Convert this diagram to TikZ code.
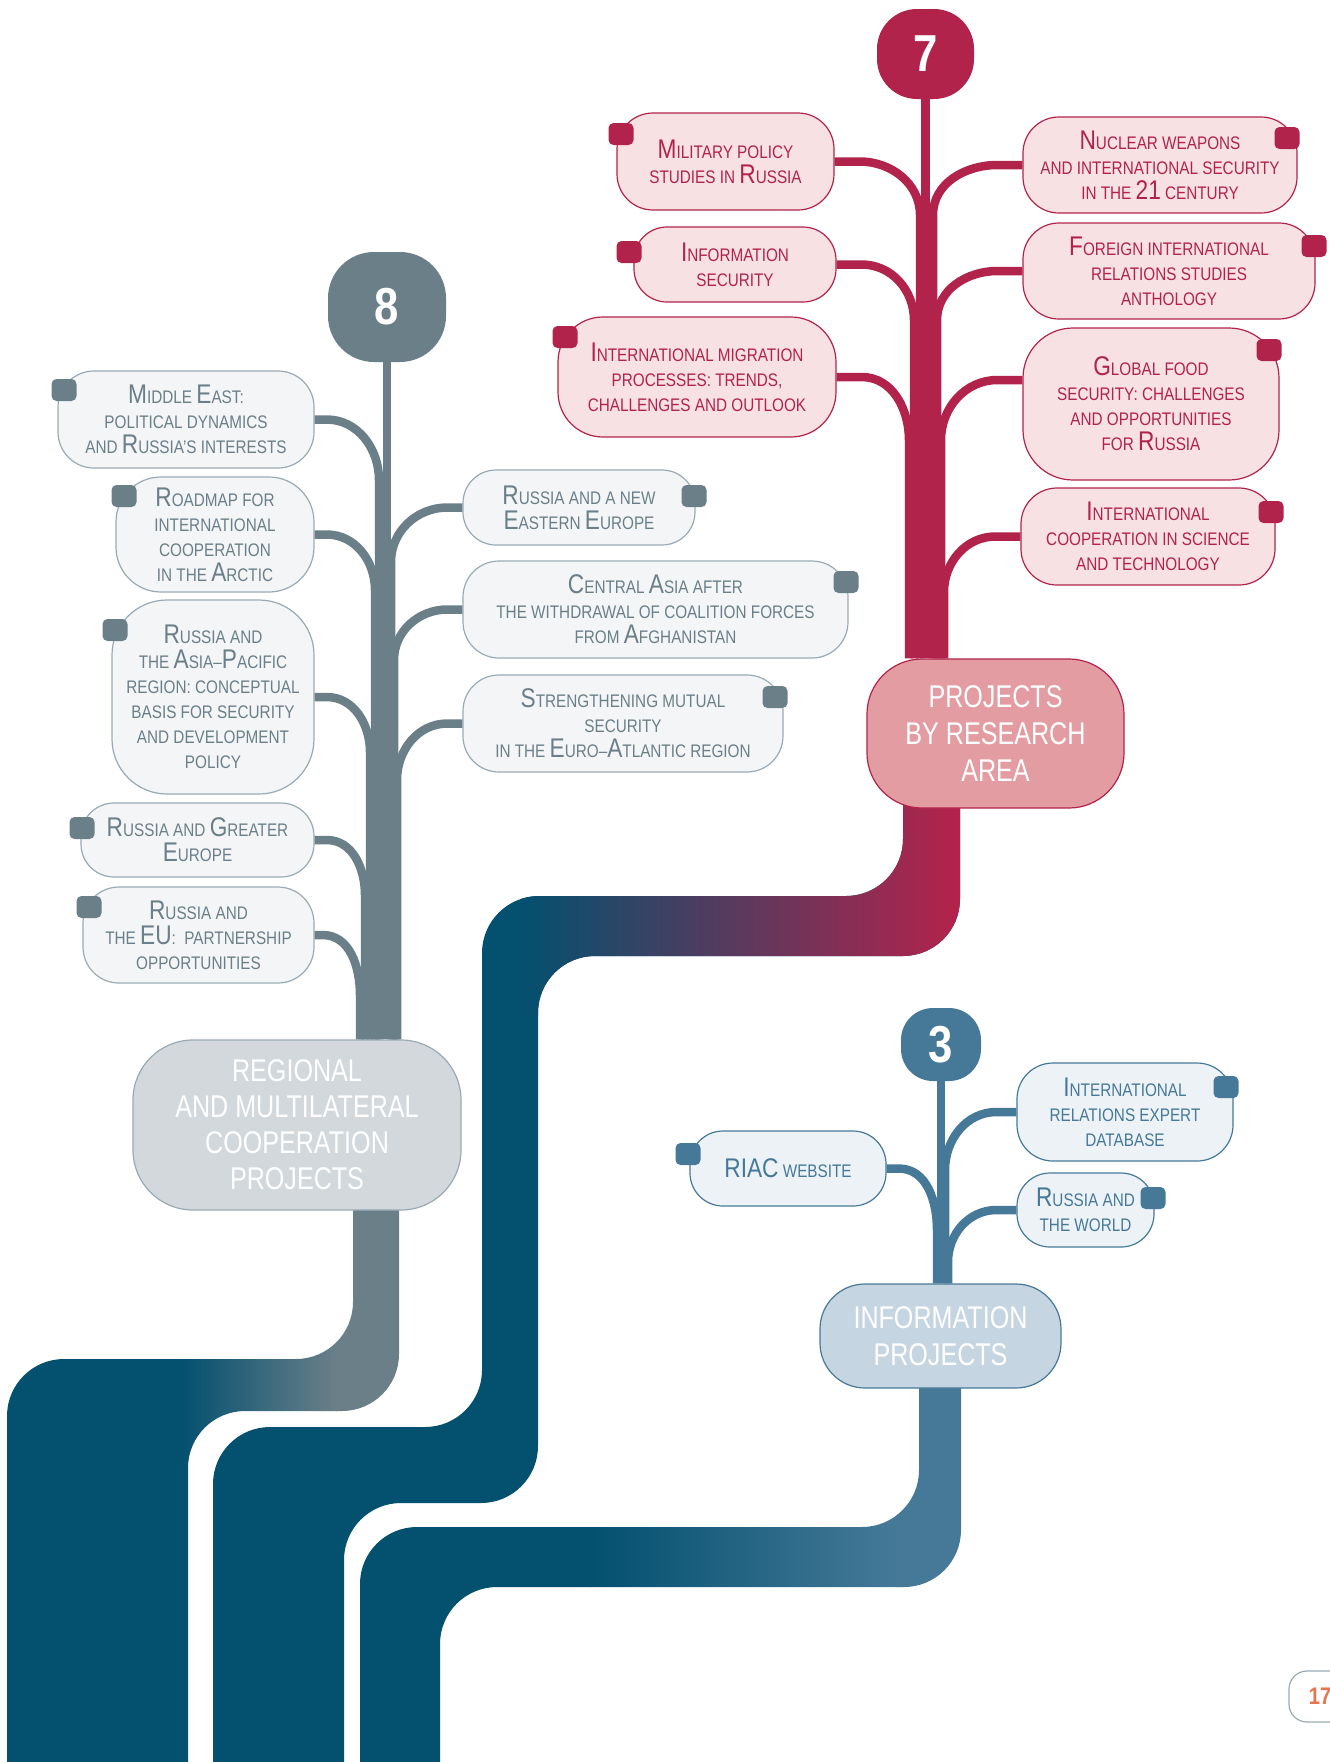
\documentclass[tikz,border=0pt]{standalone}
\usepackage{fontspec}
\setmainfont{Liberation Sans}[FakeStretch=0.84]
\newfontfamily\headfont{Liberation Sans}[FakeStretch=0.8]
\usetikzlibrary{calc}
\definecolor{crimson}{HTML}{B2234C}
\definecolor{pinkfill}{HTML}{F8E1E3}
\definecolor{pinkhead}{HTML}{E39CA1}
\definecolor{slate}{HTML}{6B7F89}
\definecolor{slatefill}{HTML}{F3F5F7}
\definecolor{slateline}{HTML}{9AAAB4}
\definecolor{slatehead}{HTML}{D3D8DC}
\definecolor{steel}{HTML}{467998}
\definecolor{steelfill}{HTML}{ECF2F6}
\definecolor{steelhead}{HTML}{C5D5E1}
\definecolor{deepblue}{HTML}{03506F}
\definecolor{pageorange}{HTML}{E8734F}
\newcommand{\bigc}[1]{{\fontsize{27}{25}\selectfont #1}}
\tikzset{topic/.style={rounded corners=36pt, line width=1.2pt, align=center, inner sep=0pt, font=\fontsize{18.2}{25}\selectfont},
  redtopic/.style={topic, draw=crimson, fill=pinkfill, text=crimson},
  greytopic/.style={topic, draw=slateline, fill=slatefill, text=slate},
  bluetopic/.style={topic, draw=steel, fill=steelfill, text=steel},
  cornertag/.style={minimum width=25pt, minimum height=22pt, inner sep=0pt, rounded corners=5pt},
  numbox/.style={text=white, inner sep=0pt, font=\fontsize{52}{52}\selectfont\bfseries},
  headbox/.style={align=center, text=white, inner sep=0pt, line width=1.2pt, font=\headfont\fontsize{31.4}{37}\selectfont},
  twig/.style={line width=8.5pt}}

\begin{document}
\begin{tikzpicture}[x=1pt, y=-1pt]
\useasboundingbox (0,0) rectangle (1330,1762);
\clip (0,0) rectangle (1330,1762);

% bands
\begin{scope}
\clip[rounded corners=57pt] (353,1130) -- (399,1130) -- (399,1411) -- (188,1411) -- (188,1900) -- (7,1900) -- (7,1359) -- (353,1359) -- cycle;
\fill[deepblue] (0,1100) rectangle (181,1900);
\shade[left color=deepblue, right color=slate] (180,1100) rectangle (337,1900);
\fill[slate] (336,1100) rectangle (420,1900);
\end{scope}
\begin{scope}
\clip[rounded corners=57pt] (903,720) -- (960,720) -- (960,956) -- (538,956) -- (538,1503) -- (344,1503) -- (344,1900) -- (213,1900) -- (213,1427) -- (482,1427) -- (482,896) -- (903,896) -- cycle;
\fill[deepblue] (0,700) rectangle (1000,1900);
\shade[left color=deepblue, right color=crimson] (520,700) rectangle (954,1015);
\fill[crimson] (953,700) rectangle (1000,1015);
\end{scope}
\begin{scope}
\clip[rounded corners=57pt] (919,1300) -- (961,1300) -- (961,1587) -- (440,1587) -- (440,1900) -- (360,1900) -- (360,1527) -- (919,1527) -- cycle;
\fill[deepblue] (0,1290) rectangle (591,1900);
\shade[left color=deepblue, right color=steel] (590,1290) rectangle (898,1660);
\fill[steel] (897,1290) rectangle (1000,1660);
\end{scope}

% research area (7)
\node[numbox, fill=crimson, minimum width=97pt, minimum height=90pt, rounded corners=40pt] (n7) at (925.5,54) {7};
\node[redtopic, minimum width=217pt, minimum height=97pt] (mil) at (725.5,161.5) {\bigc{M}ILITARY POLICY\\STUDIES IN \bigc{R}USSIA};
\node[redtopic, minimum width=202pt, minimum height=75pt, rounded corners=33pt] (isec) at (735,264.5) {\bigc{I}NFORMATION\\SECURITY};
\node[redtopic, minimum width=278pt, minimum height=120pt, rounded corners=45pt] (migr) at (697,377) {\bigc{I}NTERNATIONAL MIGRATION\\PROCESSES: TRENDS,\\CHALLENGES AND OUTLOOK};
\node[redtopic, minimum width=274pt, minimum height=96pt] (nuke) at (1160,165) {\bigc{N}UCLEAR WEAPONS\\AND INTERNATIONAL SECURITY\\IN THE \bigc{21} CENTURY};
\node[redtopic, minimum width=292pt, minimum height=96pt] (anth) at (1169,271) {\bigc{F}OREIGN INTERNATIONAL\\RELATIONS STUDIES\\ANTHOLOGY};
\node[redtopic, minimum width=256pt, minimum height=152pt, rounded corners=50pt] (food) at (1151,404) {\bigc{G}LOBAL FOOD\\SECURITY: CHALLENGES\\AND OPPORTUNITIES\\FOR \bigc{R}USSIA};
\node[redtopic, minimum width=254pt, minimum height=97pt] (scitech) at (1148,536.5) {\bigc{I}NTERNATIONAL\\COOPERATION IN SCIENCE\\AND TECHNOLOGY};
\node[headbox, fill=pinkhead, draw=crimson, minimum width=257pt, minimum height=149pt, rounded corners=55pt] (research) at (995.5,733.5) {PROJECTS\\BY RESEARCH\\AREA};

\coordinate (rj1) at (920,215);
\coordinate (rj2) at (914,320);
\coordinate (rj3) at (909,440);
\coordinate (rj4) at (933,215);
\coordinate (rj5) at (937,320);
\coordinate (rj6) at (941,440);
\coordinate (rj7) at (944,592);
\draw[twig, crimson] (n7.south) -- (n7.south |- research.north);
\draw[twig, crimson] (mil.east) -- ++(25,0) to[out=0,in=90] (rj1) -- (rj1 |- research.north);
\draw[twig, crimson] (isec.east) -- ++(25,0) to[out=0,in=90] (rj2) -- (rj2 |- research.north);
\draw[twig, crimson] (migr.east) -- ++(25,0) to[out=0,in=90] (rj3) -- (rj3 |- research.north);
\draw[twig, crimson] (nuke.west) -- ++(-25,0) to[out=180,in=90] (rj4) -- (rj4 |- research.north);
\draw[twig, crimson] (anth.west) -- ++(-25,0) to[out=180,in=90] (rj5) -- (rj5 |- research.north);
\draw[twig, crimson] ([yshift=24pt]food.west) -- ++(-25,0) to[out=180,in=90] (rj6) -- (rj6 |- research.north);
\draw[twig, crimson] (scitech.west) -- ++(-25,0) to[out=180,in=90] (rj7) -- (rj7 |- research.north);

% regional and multilateral (8)
\node[numbox, fill=slate, minimum width=118pt, minimum height=110pt, rounded corners=46pt] (n8) at (387,307) {8};
\node[greytopic, minimum width=256pt, minimum height=97pt] (mideast) at (186,419.5) {\bigc{M}IDDLE \bigc{E}AST:\\POLITICAL DYNAMICS\\AND \bigc{R}USSIA’S INTERESTS};
\node[greytopic, minimum width=198pt, minimum height=115pt, rounded corners=45pt] (arctic) at (215,534.5) {\bigc{R}OADMAP FOR\\INTERNATIONAL\\COOPERATION\\IN THE \bigc{A}RCTIC};
\node[greytopic, minimum width=202pt, minimum height=194pt, rounded corners=55pt] (asiapac) at (213,697) {\bigc{R}USSIA AND\\THE \bigc{A}SIA–\bigc{P}ACIFIC\\REGION: CONCEPTUAL\\BASIS FOR SECURITY\\AND DEVELOPMENT\\POLICY};
\node[greytopic, minimum width=233pt, minimum height=74pt, rounded corners=33pt] (greater) at (197.5,840) {\bigc{R}USSIA AND \bigc{G}REATER\\\bigc{E}UROPE};
\node[greytopic, minimum width=231pt, minimum height=96pt] (rueu) at (198.5,935) {\bigc{R}USSIA AND\\THE \bigc{EU}: \ PARTNERSHIP\\OPPORTUNITIES};
\node[greytopic, minimum width=232pt, minimum height=75pt, rounded corners=33pt] (easteu) at (579,507.5) {\bigc{R}USSIA AND A NEW\\\bigc{E}ASTERN \bigc{E}UROPE};
\node[greytopic, minimum width=385pt, minimum height=97pt] (centasia) at (655.5,609.5) {\bigc{C}ENTRAL \bigc{A}SIA AFTER\\THE WITHDRAWAL OF COALITION FORCES\\FROM \bigc{A}FGHANISTAN};
\node[greytopic, minimum width=320pt, minimum height=97pt] (euroatl) at (623,723.5) {\bigc{S}TRENGTHENING MUTUAL\\SECURITY\\IN THE \bigc{E}URO–\bigc{A}TLANTIC REGION};
\node[headbox, fill=slatehead, draw=slateline, minimum width=328pt, minimum height=170pt, rounded corners=60pt, font=\headfont\fontsize{31.4}{36}\selectfont] (regional) at (297,1125) {REGIONAL\\AND MULTILATERAL\\COOPERATION\\PROJECTS};

\coordinate (gj1) at (379,480);
\coordinate (gj2) at (375,590);
\coordinate (gj3) at (370,752);
\coordinate (gj4) at (365,895);
\coordinate (gj5) at (360,995);
\coordinate (gj6) at (391,562);
\coordinate (gj7) at (394,660);
\coordinate (gj8) at (397,780);
\draw[twig, slate] (n8.south) -- (n8.south |- regional.north);
\draw[twig, slate] (mideast.east) -- ++(12,0) to[out=0,in=90] (gj1) -- (gj1 |- regional.north);
\draw[twig, slate] (arctic.east) -- ++(12,0) to[out=0,in=90] (gj2) -- (gj2 |- regional.north);
\draw[twig, slate] (asiapac.east) -- ++(12,0) to[out=0,in=90] (gj3) -- (gj3 |- regional.north);
\draw[twig, slate] (greater.east) -- ++(12,0) to[out=0,in=90] (gj4) -- (gj4 |- regional.north);
\draw[twig, slate] (rueu.east) -- ++(8,0) to[out=0,in=90] (gj5) -- (gj5 |- regional.north);
\draw[twig, slate] (easteu.west) -- ++(-15,0) to[out=180,in=90] (gj6) -- (gj6 |- regional.north);
\draw[twig, slate] (centasia.west) -- ++(-15,0) to[out=180,in=90] (gj7) -- (gj7 |- regional.north);
\draw[twig, slate] (euroatl.west) -- ++(-15,0) to[out=180,in=90] (gj8) -- (gj8 |- regional.north);

% information (3)
\node[numbox, fill=steel, minimum width=80pt, minimum height=73pt, rounded corners=32pt] (n3) at (941,1044.5) {3};
\node[bluetopic, minimum width=196pt, minimum height=75pt, rounded corners=33pt] (riac) at (788,1168.5) {\bigc{RIAC} WEBSITE};
\node[bluetopic, minimum width=216pt, minimum height=98pt] (experts) at (1125,1112) {\bigc{I}NTERNATIONAL\\RELATIONS EXPERT\\DATABASE};
\node[bluetopic, minimum width=137pt, minimum height=74pt, rounded corners=33pt] (world) at (1085.5,1210) {\bigc{R}USSIA AND\\THE WORLD};
\node[headbox, fill=steelhead, draw=steel, minimum width=241pt, minimum height=104pt, rounded corners=45pt] (infoproj) at (940.5,1336) {INFORMATION\\PROJECTS};

\coordinate (bj1) at (937,1230);
\coordinate (bj2) at (945,1170);
\coordinate (bj3) at (948,1262);
\draw[twig, steel] (n3.south) -- (n3.south |- infoproj.north);
\draw[twig, steel] (riac.east) -- ++(12,0) to[out=0,in=90] (bj1) -- (bj1 |- infoproj.north);
\draw[twig, steel] (experts.west) -- ++(-20,0) to[out=180,in=90] (bj2) -- (bj2 |- infoproj.north);
\draw[twig, steel] (world.west) -- ++(-20,0) to[out=180,in=90] (bj3) -- (bj3 |- infoproj.north);

% corner tags
\node[cornertag, fill=crimson] (milt) at (621,134) {};
\node[cornertag, fill=crimson] (isect) at (629,252) {};
\node[cornertag, fill=crimson] (migrt) at (565,337) {};
\node[cornertag, fill=crimson] (nuket) at (1287,138) {};
\node[cornertag, fill=crimson] (antht) at (1314,246) {};
\node[cornertag, fill=crimson] (foodt) at (1269,350) {};
\node[cornertag, fill=crimson] (scitecht) at (1271,512) {};
\node[cornertag, fill=slate] (mideastt) at (64,390) {};
\node[cornertag, fill=slate] (arctict) at (124,496) {};
\node[cornertag, fill=slate] (asiapact) at (115,630) {};
\node[cornertag, fill=slate] (greatert) at (82,828) {};
\node[cornertag, fill=slate] (rueut) at (89,907) {};
\node[cornertag, fill=slate] (easteut) at (694,496) {};
\node[cornertag, fill=slate] (centasiat) at (846,582) {};
\node[cornertag, fill=slate] (euroatlt) at (775,697) {};
\node[cornertag, fill=steel] (riact) at (688,1154) {};
\node[cornertag, fill=steel] (expertst) at (1226,1087) {};
\node[cornertag, fill=steel] (worldt) at (1153,1198) {};

% page number
\node[draw=slateline, line width=1.2pt, fill=white, rounded corners=18pt, minimum width=62pt, minimum height=51pt, inner sep=0pt, text=pageorange, font=\fontsize{24}{24}\selectfont\bfseries] (pagenum) at (1320,1696.5) {17};
\end{tikzpicture}
\end{document}
